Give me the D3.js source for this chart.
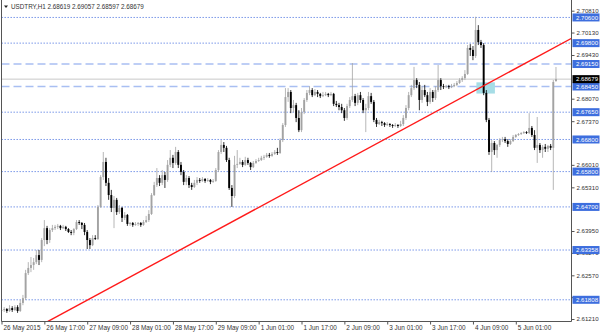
<!DOCTYPE html>
<html>
<head>
<meta charset="utf-8">
<script src="https://cdn.jsdelivr.net/npm/d3@7"></script>
<style>
  body { margin: 0; background: #fff; }
  svg { display: block; font-family: "Liberation Sans", Arial, sans-serif; }
</style>
</head>
<body>
<div class="graph"></div>
<script>
// USDTRY H1 bars, index 0 = 26 May 2015 (one bar per hour)
var opens = [
  2.6146,2.6149,2.6152,2.6146,2.6155,2.6149,2.6158,2.6146,2.6171,2.6186,
  2.6264,2.6280,2.6289,2.6298,2.6320,2.6305,2.6367,2.6404,2.6367,2.6398,
  2.6404,2.6408,2.6411,2.6404,2.6408,2.6401,2.6392,2.6389,2.6401,2.6423,
  2.6420,2.6414,2.6392,2.6367,2.6351,2.6373,2.6370,2.6470,2.6563,2.6610,
  2.6545,2.6507,2.6467,2.6492,2.6454,2.6467,2.6436,2.6445,2.6417,2.6420,
  2.6414,2.6417,2.6420,2.6414,2.6423,2.6429,2.6448,2.6507,2.6538,2.6560,
  2.6545,2.6569,2.6554,2.6601,2.6623,2.6607,2.6641,2.6601,2.6579,2.6548,
  2.6560,2.6538,2.6532,2.6545,2.6554,2.6551,2.6557,2.6551,2.6554,2.6548,
  2.6551,2.6585,2.6641,2.6663,2.6654,2.6616,2.6529,2.6504,2.6601,2.6604,
  2.6610,2.6601,2.6616,2.6607,2.6594,2.6607,2.6613,2.6616,2.6623,2.6626,
  2.6632,2.6629,2.6635,2.6641,2.6638,2.6678,2.6725,2.6812,2.6828,2.6778,
  2.6787,2.6747,2.6709,2.6765,2.6803,2.6825,2.6834,2.6818,2.6828,2.6822,
  2.6815,2.6818,2.6822,2.6818,2.6822,2.6791,2.6787,2.6781,2.6771,2.6747,
  2.6784,2.6803,2.6815,2.6794,2.6818,2.6803,2.6771,2.6778,2.6815,2.6797,
  2.6741,2.6728,2.6734,2.6731,2.6725,2.6728,2.6725,2.6722,2.6725,2.6722,
  2.6728,2.6747,2.6778,2.6818,2.6840,2.6865,2.6850,2.6803,2.6834,2.6818,
  2.6797,2.6828,2.6809,2.6834,2.6865,2.6846,2.6843,2.6846,2.6843,2.6846,
  2.6850,2.6856,2.6865,2.6871,2.6884,2.6965,2.6959,2.6940,2.7021,2.6983,
  2.6974,2.6825,2.6741,2.6641,2.6669,2.6647,2.6663,2.6678,2.6681,2.6675,
  2.6666,2.6675,2.6688,2.6694,2.6697,2.6700,2.6703,2.6700,2.6716,2.6694,
  2.6654,2.6663,2.6647,2.6657,2.6651,2.6660,2.6654,2.68619
];
var highs = [
  2.6155,2.6158,2.6155,2.6164,2.6161,2.6164,2.6164,2.6180,2.6196,2.6274,
  2.6298,2.6314,2.6311,2.6336,2.6336,2.6373,2.6429,2.6411,2.6404,2.6414,
  2.6414,2.6417,2.6414,2.6414,2.6411,2.6404,2.6398,2.6404,2.6429,2.6429,
  2.6423,2.6420,2.6398,2.6373,2.6382,2.6382,2.6476,2.6569,2.6641,2.6623,
  2.6560,2.6523,2.6504,2.6498,2.6476,2.6470,2.6454,2.6448,2.6423,2.6423,
  2.6423,2.6423,2.6423,2.6429,2.6442,2.6460,2.6513,2.6548,2.6591,2.6569,
  2.6585,2.6579,2.6616,2.6647,2.6632,2.6657,2.6647,2.6610,2.6585,2.6569,
  2.6566,2.6545,2.6554,2.6563,2.6560,2.6563,2.6560,2.6560,2.6557,2.6557,
  2.6591,2.6647,2.6678,2.6672,2.6660,2.6623,2.6538,2.6629,2.6647,2.6623,
  2.6616,2.6626,2.6623,2.6610,2.6613,2.6619,2.6623,2.6629,2.6632,2.6638,
  2.6638,2.6641,2.6647,2.6654,2.6684,2.6731,2.6840,2.6840,2.6834,2.6803,
  2.6794,2.6771,2.6778,2.6809,2.6834,2.6846,2.6840,2.6837,2.6834,2.6825,
  2.6828,2.6828,2.6825,2.6828,2.6825,2.6800,2.6794,2.6791,2.6778,2.6791,
  2.6812,2.6918,2.6822,2.6825,2.6828,2.6809,2.6791,2.6828,2.6825,2.6803,
  2.6747,2.6741,2.6738,2.6734,2.6734,2.6731,2.6728,2.6731,2.6728,2.6738,
  2.6756,2.6787,2.6828,2.6850,2.6906,2.6871,2.6859,2.6846,2.6850,2.6828,
  2.6840,2.6834,2.6846,2.6912,2.6871,2.6853,2.6850,2.6850,2.6853,2.6856,
  2.6862,2.6871,2.6877,2.6896,2.6974,2.6977,2.6971,2.7062,2.7036,2.6990,
  2.6980,2.6834,2.6747,2.6678,2.6675,2.6666,2.6684,2.6688,2.6688,2.6681,
  2.6681,2.6694,2.6697,2.6700,2.6703,2.6706,2.6706,2.6762,2.6722,2.6709,
  2.6750,2.6669,2.6663,2.6666,2.6663,2.6666,2.6865,2.69057
];
var lows = [
  2.6140,2.6143,2.6140,2.6143,2.6143,2.6146,2.6140,2.6143,2.6164,2.6180,
  2.6258,2.6267,2.6274,2.6292,2.6289,2.6298,2.6348,2.6354,2.6358,2.6392,
  2.6398,2.6401,2.6398,2.6401,2.6395,2.6389,2.6382,2.6382,2.6398,2.6414,
  2.6401,2.6382,2.6339,2.6339,2.6348,2.6367,2.6367,2.6467,2.6554,2.6535,
  2.6492,2.6454,2.6404,2.6445,2.6448,2.6423,2.6429,2.6411,2.6411,2.6408,
  2.6411,2.6411,2.6408,2.6411,2.6420,2.6423,2.6445,2.6504,2.6532,2.6535,
  2.6538,2.6529,2.6548,2.6594,2.6591,2.6601,2.6591,2.6569,2.6538,2.6538,
  2.6529,2.6523,2.6529,2.6538,2.6545,2.6548,2.6545,2.6548,2.6541,2.6545,
  2.6548,2.6579,2.6635,2.6641,2.6610,2.6523,2.6470,2.6498,2.6591,2.6601,
  2.6594,2.6598,2.6601,2.6585,2.6591,2.6604,2.6610,2.6613,2.6616,2.6623,
  2.6623,2.6626,2.6632,2.6632,2.6635,2.6672,2.6719,2.6797,2.6762,2.6765,
  2.6734,2.6703,2.6703,2.6759,2.6797,2.6818,2.6812,2.6815,2.6812,2.6809,
  2.6812,2.6815,2.6812,2.6815,2.6784,2.6781,2.6771,2.6762,2.6738,2.6741,
  2.6778,2.6797,2.6784,2.6787,2.6794,2.6762,2.6703,2.6771,2.6791,2.6734,
  2.6719,2.6725,2.6722,2.6719,2.6722,2.6719,2.6716,2.6719,2.6716,2.6719,
  2.6722,2.6741,2.6771,2.6812,2.6834,2.6840,2.6771,2.6794,2.6812,2.6784,
  2.6791,2.6797,2.6803,2.6828,2.6834,2.6837,2.6840,2.6837,2.6840,2.6843,
  2.6846,2.6853,2.6859,2.6865,2.6881,2.6940,2.6927,2.6934,2.6974,2.6965,
  2.6818,2.6734,2.6632,2.6579,2.6632,2.6623,2.6657,2.6672,2.6669,2.6657,
  2.6663,2.6672,2.6685,2.6691,2.6694,2.6697,2.6697,2.6697,2.6688,2.6647,
  2.6607,2.6638,2.6623,2.6641,2.6641,2.6647,2.6523,2.68597
];
var closes = [
  2.6149,2.6152,2.6146,2.6155,2.6149,2.6158,2.6146,2.6171,2.6186,2.6264,
  2.6280,2.6289,2.6298,2.6320,2.6305,2.6367,2.6404,2.6367,2.6398,2.6404,
  2.6408,2.6411,2.6404,2.6408,2.6401,2.6392,2.6389,2.6401,2.6423,2.6420,
  2.6414,2.6392,2.6367,2.6351,2.6373,2.6370,2.6470,2.6563,2.6610,2.6545,
  2.6507,2.6467,2.6492,2.6454,2.6467,2.6436,2.6445,2.6417,2.6420,2.6414,
  2.6417,2.6420,2.6414,2.6423,2.6429,2.6448,2.6507,2.6538,2.6560,2.6545,
  2.6569,2.6554,2.6601,2.6623,2.6607,2.6641,2.6601,2.6579,2.6548,2.6560,
  2.6538,2.6532,2.6545,2.6554,2.6551,2.6557,2.6551,2.6554,2.6548,2.6551,
  2.6585,2.6641,2.6663,2.6654,2.6616,2.6529,2.6504,2.6601,2.6604,2.6610,
  2.6601,2.6616,2.6607,2.6594,2.6607,2.6613,2.6616,2.6623,2.6626,2.6632,
  2.6629,2.6635,2.6641,2.6638,2.6678,2.6725,2.6812,2.6828,2.6778,2.6787,
  2.6747,2.6709,2.6765,2.6803,2.6825,2.6834,2.6818,2.6828,2.6822,2.6815,
  2.6818,2.6822,2.6818,2.6822,2.6791,2.6787,2.6781,2.6771,2.6747,2.6784,
  2.6803,2.6815,2.6794,2.6818,2.6803,2.6771,2.6778,2.6815,2.6797,2.6741,
  2.6728,2.6734,2.6731,2.6725,2.6728,2.6725,2.6722,2.6725,2.6722,2.6728,
  2.6747,2.6778,2.6818,2.6840,2.6865,2.6850,2.6803,2.6834,2.6818,2.6797,
  2.6828,2.6809,2.6834,2.6865,2.6846,2.6843,2.6846,2.6843,2.6846,2.6850,
  2.6856,2.6865,2.6871,2.6884,2.6965,2.6959,2.6940,2.7021,2.6983,2.6974,
  2.6825,2.6741,2.6641,2.6669,2.6647,2.6663,2.6678,2.6681,2.6675,2.6666,
  2.6675,2.6688,2.6694,2.6697,2.6700,2.6703,2.6700,2.6716,2.6694,2.6654,
  2.6663,2.6647,2.6657,2.6651,2.6660,2.6654,2.6859,2.68679
];

var timeLabels = ["26 May 2015","26 May 17:00","27 May 09:00","28 May 01:00","28 May 17:00",
  "29 May 09:00","1 Jun 01:00","1 Jun 17:00","2 Jun 09:00","3 Jun 01:00","3 Jun 17:00",
  "4 Jun 09:00","5 Jun 01:00"];
var barsPerLabel = 16;

// scale labels that are not hidden behind a level tag
var priceTicks = [2.70810,2.70130,2.69430,2.68070,2.67370,2.66010,
  2.65310,2.63950,2.63270,2.62570,2.61890,2.61210];

// horizontal lines drawn on the chart
var dottedLevels = [2.70600,2.69800,2.67650,2.66800,2.65800,2.64700,2.63358,2.61808];
var dashedLevels = [2.69150,2.68450];
var bidPrice = 2.68679;

// trend line anchors [bar index, price] and the shaded rectangle
var trendPoints = [[17, 2.6112], [213, 2.6996]];
var zoneBars = [177.3, 184.2];
var zonePrices = [2.6823, 2.6858];

var title = "USDTRY,H1  2.68619 2.69057 2.68597 2.68679";

var width = 600, height = 333,
    plotLeft = 1.5, plotRight = 571.5, plotBottom = 321.5;

var svg = d3.select(".graph").append("svg")
    .attr("width", width)
    .attr("height", height);

var x = d3.scaleLinear()
    .domain([0, 192])
    .range([1.5, 515.8]);

var y = d3.scaleLinear()
    .domain([2.61210, 2.70810])
    .range([319, 10.7]);

svg.append("clipPath").attr("id", "plot")
  .append("rect")
    .attr("x", plotLeft).attr("y", 0)
    .attr("width", plotRight - plotLeft).attr("height", plotBottom);

var plot = svg.append("g").attr("clip-path", "url(#plot)");

plot.selectAll(".dotted")
    .data(dottedLevels)
  .enter().append("line")
    .attr("class", "dotted")
    .attr("x1", plotLeft).attr("x2", plotRight)
    .attr("y1", function(d) { return y(d); })
    .attr("y2", function(d) { return y(d); })
    .style("stroke", "#6f8fe6")
    .style("stroke-width", 1)
    .style("stroke-dasharray", "1.4,1.6");

plot.selectAll(".dashed")
    .data(dashedLevels)
  .enter().append("line")
    .attr("class", "dashed")
    .attr("x1", plotLeft).attr("x2", plotRight)
    .attr("y1", function(d) { return y(d); })
    .attr("y2", function(d) { return y(d); })
    .style("stroke", "#a9bff2")
    .style("stroke-width", 1.3)
    .style("stroke-dasharray", "8,4");

plot.append("line")
    .attr("x1", plotLeft).attr("x2", plotRight)
    .attr("y1", y(bidPrice)).attr("y2", y(bidPrice))
    .style("stroke", "#c8c8c8")
    .style("stroke-width", 1);

plot.append("rect")
    .attr("x", x(zoneBars[0]))
    .attr("width", x(zoneBars[1]) - x(zoneBars[0]))
    .attr("y", y(zonePrices[1]))
    .attr("height", y(zonePrices[0]) - y(zonePrices[1]))
    .style("fill", "#a6dde6");

var bars = d3.range(closes.length).map(function(i) {
  return {i: i, o: opens[i], h: highs[i], l: lows[i], c: closes[i]};
});

var candle = plot.selectAll(".candle")
    .data(bars)
  .enter().append("g")
    .attr("class", "candle")
    .style("fill", function(d) { return d.c >= d.o ? "#a3a3a3" : "#000"; })
    .style("stroke", function(d) { return d.c >= d.o ? "#a3a3a3" : "#000"; });

candle.append("line")
    .attr("x1", function(d) { return x(d.i); })
    .attr("x2", function(d) { return x(d.i); })
    .attr("y1", function(d) { return y(d.h); })
    .attr("y2", function(d) { return y(d.l); })
    .style("stroke-width", 0.8);

candle.append("rect")
    .attr("x", function(d) { return x(d.i) - 0.95; })
    .attr("width", 1.9)
    .attr("y", function(d) { return y(Math.max(d.o, d.c)); })
    .attr("height", function(d) { return Math.max(0.6, Math.abs(y(d.o) - y(d.c))); })
    .style("stroke", "none");

plot.append("line")
    .attr("x1", x(trendPoints[0][0])).attr("y1", y(trendPoints[0][1]))
    .attr("x2", x(trendPoints[1][0])).attr("y2", y(trendPoints[1][1]))
    .style("stroke", "#ff1a1a")
    .style("stroke-width", 1.4);

// frame
svg.append("line")
    .attr("x1", plotLeft).attr("x2", plotLeft)
    .attr("y1", 0).attr("y2", plotBottom)
    .style("stroke", "#555");

var yAxis = d3.axisRight(y)
    .tickValues(priceTicks)
    .tickFormat(d3.format(".5f"))
    .tickSize(3)
    .tickSizeOuter(0);

var yg = svg.append("g")
    .attr("transform", "translate(" + plotRight + ",0)")
    .call(yAxis);
yg.select(".domain").attr("d", "M0,0V" + plotBottom).style("stroke", "#555");
yg.selectAll(".tick line").style("stroke", "#555");
yg.selectAll(".tick text")
    .attr("x", 5)
    .style("font-size", "6.1px")
    .style("fill", "#333")
    .style("font-family", "Liberation Sans, Arial, sans-serif");

var xAxis = d3.axisBottom(x)
    .tickValues(d3.range(timeLabels.length).map(function(k) { return k * barsPerLabel; }))
    .tickFormat(function(d, k) { return timeLabels[k]; })
    .tickSize(3)
    .tickSizeOuter(0);

var xg = svg.append("g")
    .attr("transform", "translate(0," + plotBottom + ")")
    .call(xAxis);
xg.select(".domain").attr("d", "M" + plotLeft + ",0H" + plotRight).style("stroke", "#555");
xg.selectAll(".tick line").style("stroke", "#555");
xg.selectAll(".tick text")
    .attr("y", 3)
    .attr("dy", "0.8em")
    .attr("x", 1.5)
    .style("text-anchor", "start")
    .style("font-size", "6.4px")
    .style("fill", "#333")
    .style("font-family", "Liberation Sans, Arial, sans-serif");

// price labels of the level lines
function priceTag(p, bg) {
  var g = svg.append("g").attr("transform", "translate(" + (plotRight + 1) + "," + y(p) + ")");
  g.append("rect")
      .attr("x", 0).attr("y", -4)
      .attr("width", 27).attr("height", 8)
      .style("fill", bg);
  g.append("text")
      .attr("x", 3.5).attr("y", 2.2)
      .style("font-size", "6.1px")
      .style("fill", "#fff")
      .text(d3.format(".5f")(p));
}
dottedLevels.concat(dashedLevels).forEach(function(p) { priceTag(p, "#3d6ede"); });
priceTag(bidPrice, "#000");

// symbol header
svg.append("path")
    .attr("d", "M4,5.5L8,5.5L6,8Z")
    .style("fill", "#222");
svg.append("text")
    .attr("x", 11).attr("y", 9)
    .style("font-size", "6.3px")
    .style("fill", "#333")
    .text(title);
</script>
</body>
</html>
